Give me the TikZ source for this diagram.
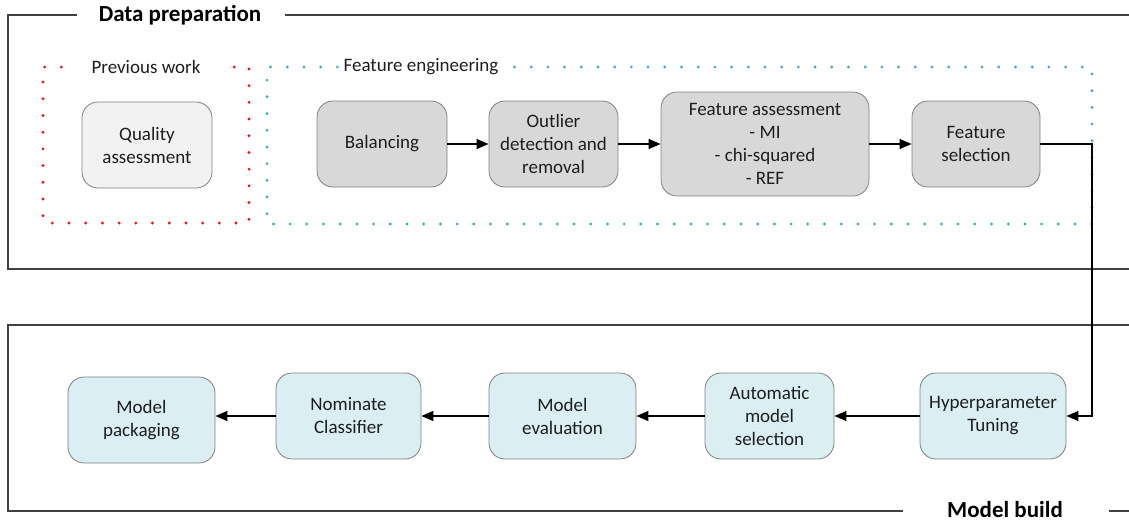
\documentclass[tikz,border=0pt]{standalone}
\usepackage{fontspec}
\setmainfont{Carlito}
\usetikzlibrary{arrows.meta}

\definecolor{framegray}{RGB}{64,64,64}
\definecolor{boxline}{RGB}{128,128,128}
\definecolor{prevfill}{RGB}{242,242,242}
\definecolor{featfill}{RGB}{216,216,216}
\definecolor{modelfill}{RGB}{218,238,243}
\definecolor{prevdot}{RGB}{230,20,28}
\definecolor{featdot}{RGB}{70,170,195}
\definecolor{txt}{RGB}{30,30,30}

\begin{document}
\begin{tikzpicture}[x=1pt,y=-1pt]
\tikzstyle{every node}+=[inner sep=0pt, text=txt, font=\fontsize{19}{23}\selectfont]
\tikzstyle{stepbox}=[draw=boxline, line width=0.8pt, rounded corners=16pt, align=center, minimum height=86pt]
\tikzstyle{frame}=[draw=framegray, line width=1.6pt]
\tikzstyle{dots}=[line width=3.2pt, line cap=round, dash pattern=on 0pt off 16.7pt]
\tikzstyle{flow}=[draw=black, line width=1.3pt, -{Triangle[length=12pt,width=10pt]}]
\tikzstyle{headline}=[font=\fontsize{23}{27}\selectfont\bfseries, text=black]
\tikzstyle{grouplabel}=[fill=white, inner ysep=4pt]

\useasboundingbox (0,0) rectangle (1129,523);

\draw [frame] (77,15) -- (8,15) -- (8,269) -- (1129,269);
\draw [frame] (285,15) -- (1129,15);
\draw (180,15) node [headline] (prep) {Data preparation};

\draw [frame] (1129,325) -- (8,325) -- (8,511) -- (903,511);
\draw [frame] (1109,511) -- (1129,511);
\draw (1005,510) node [headline] (build) {Model build};

\node [grouplabel, inner xsep=30pt] (prevlbl) at (146,67) {Previous work};
\draw [dots, prevdot] (prevlbl.west) -- (43,67) -- (43,223) -- (249,223) -- (249,67) -- (prevlbl.east);
\node [grouplabel, inner xsep=6pt] (featlbl) at (421,67) {Feature engineering};
\draw [dots, featdot] (featlbl.west) -- (267,67) -- (267,224) -- (1092,224) -- (1092,67) -- (featlbl.east);

\node [stepbox, fill=prevfill, minimum width=130pt] (quality) at (147,145) {Quality\\assessment};
\node [stepbox, fill=featfill, minimum width=130pt] (balance) at (382,144) {Balancing};
\node [stepbox, fill=featfill, minimum width=129pt] (outlier) at (553.5,144) {Outlier\\detection and\\removal};
\node [stepbox, fill=featfill, minimum width=208pt, minimum height=104pt] (fassess) at (765,144) {Feature assessment\\- MI\\- chi-squared\\- REF};
\node [stepbox, fill=featfill, minimum width=128pt] (fselect) at (976,144) {Feature\\selection};

\node [stepbox, fill=modelfill, minimum width=146pt] (tuning) at (993,416) {Hyperparameter\\Tuning};
\node [stepbox, fill=modelfill, minimum width=129pt] (automl) at (769.5,416) {Automatic\\model\\selection};
\node [stepbox, fill=modelfill, minimum width=147pt] (evaluate) at (562.5,416) {Model\\evaluation};
\node [stepbox, fill=modelfill, minimum width=145pt] (nominate) at (348.5,416) {Nominate\\Classifier};
\node [stepbox, fill=modelfill, minimum width=147pt] (package) at (141.5,420) {Model\\packaging};

\coordinate (turn) at (1092,300);

\draw [flow] (balance) -- (outlier);
\draw [flow] (outlier) -- (fassess);
\draw [flow] (fassess) -- (fselect);
\draw [flow] (fselect.east) -| (turn) |- (tuning.east);
\draw [flow] (tuning) -- (automl);
\draw [flow] (automl) -- (evaluate);
\draw [flow] (evaluate) -- (nominate);
\draw [flow] (nominate.west) -- (nominate.west -| package.east);
\end{tikzpicture}
\end{document}
